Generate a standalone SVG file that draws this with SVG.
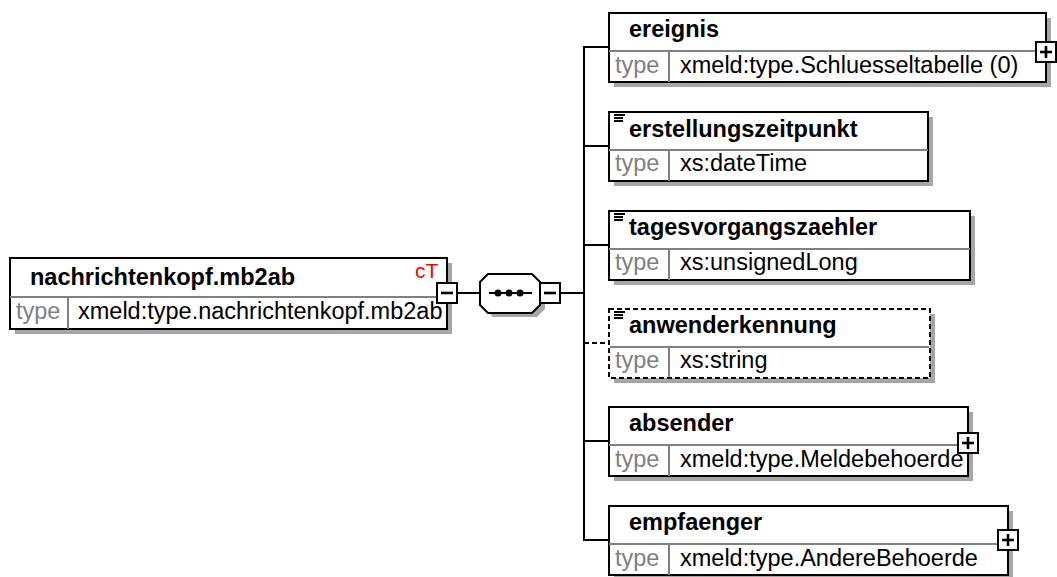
<svg xmlns="http://www.w3.org/2000/svg" width="1057" height="577" viewBox="0 0 1057 577">
<style>
.bg{fill:#fff}
.shadow{fill:#a6a6a6}
.box{fill:#fff;stroke:#000;stroke-width:2}
.dbox{fill:#fff;stroke:#000;stroke-width:2;stroke-dasharray:5 3}
.div{stroke:#808080;stroke-width:2}
.name{font-family:"Liberation Sans",Arial,sans-serif;font-weight:bold;font-size:23.5px;fill:#000}
.lbl{font-family:"Liberation Sans",Arial,sans-serif;font-size:23.5px;fill:#808080}
.val{font-family:"Liberation Sans",Arial,sans-serif;font-size:23.5px;fill:#000}
.ct{font-family:"Liberation Sans",Arial,sans-serif;font-size:21px;fill:#ff0000}
.conn{stroke:#000;stroke-width:2;fill:none}
.dconn{stroke:#000;stroke-width:2;fill:none;stroke-dasharray:5 3}
.btn{fill:#fff;stroke:#000;stroke-width:2}
.sign{stroke:#000;stroke-width:2.6}
.icon{fill:#000}
</style>
<defs>
<clipPath id="rootclip"><rect x="69" y="298" width="377" height="30"/></clipPath>
<g id="lines-icon">
<rect class="icon" x="0" y="0" width="11" height="2"/>
<rect class="icon" x="0" y="3" width="9" height="2"/>
<rect class="icon" x="0" y="6" width="9" height="2"/>
</g>
</defs>
<rect class="bg" x="0" y="0" width="1057" height="577"/>

<g id="connectors">
<line class="conn" x1="457" y1="293" x2="480" y2="293"/>
<line class="conn" x1="560" y1="293" x2="584" y2="293"/>
<line class="conn" x1="584" y1="47" x2="584" y2="540"/>
<line class="conn" x1="583" y1="47" x2="609" y2="47"/>
<line class="conn" x1="584" y1="146" x2="609" y2="146"/>
<line class="conn" x1="584" y1="245" x2="609" y2="245"/>
<line class="dconn" x1="584" y1="343" x2="609" y2="343"/>
<line class="conn" x1="584" y1="441" x2="609" y2="441"/>
<line class="conn" x1="583" y1="540" x2="609" y2="540"/>
</g>

<g id="root">
<rect class="shadow" x="15" y="263" width="437" height="71"/>
<rect class="box" x="10" y="258" width="437" height="71"/>
<line class="div" x1="10" y1="297" x2="447" y2="297"/>
<line class="div" x1="68" y1="297" x2="68" y2="329"/>
<text class="name" x="30" y="285">nachrichtenkopf.mb2ab</text>
<text class="ct" x="415" y="278">cT</text>
<text class="lbl" x="16" y="319">type</text>
<text class="val" x="78" y="319" clip-path="url(#rootclip)">xmeld:type.nachrichtenkopf.mb2ab</text>
<rect class="btn" x="437" y="283" width="20" height="20"/>
<line class="sign" x1="441" y1="293" x2="453" y2="293"/>
</g>

<g id="sequence">
<polygon class="shadow" points="493,278 537,278 545,286 545,309 537,317 493,317 485,309 485,286"/>
<polygon class="box" points="488,274 532,274 540,282 540,305 532,313 488,313 480,305 480,282"/>
<line class="conn" x1="489" y1="293" x2="532" y2="293"/>
<circle cx="498" cy="293" r="3.5" fill="#000"/>
<circle cx="509" cy="293" r="3.5" fill="#000"/>
<circle cx="520" cy="293" r="3.5" fill="#000"/>
<rect class="btn" x="540" y="283" width="20" height="20"/>
<line class="sign" x1="544" y1="293" x2="556" y2="293"/>
</g>

<g id="ereignis">
<rect class="shadow" x="614" y="18" width="437" height="69"/>
<rect class="box" x="609" y="13" width="437" height="69"/>
<line class="div" x1="609" y1="51" x2="1046" y2="51"/>
<line class="div" x1="669" y1="51" x2="669" y2="82"/>
<text class="name" x="629" y="37">ereignis</text>
<text class="lbl" x="615" y="73">type</text>
<text class="val" x="680" y="73">xmeld:type.Schluesseltabelle (0)</text>
<rect class="btn" x="1036" y="42" width="20" height="20"/>
<line class="sign" x1="1040" y1="52" x2="1052" y2="52"/>
<line class="sign" x1="1046" y1="46" x2="1046" y2="58"/>
</g>

<g id="erstellungszeitpunkt">
<rect class="shadow" x="614" y="117" width="319" height="69"/>
<rect class="box" x="609" y="112" width="319" height="69"/>
<line class="div" x1="609" y1="150" x2="928" y2="150"/>
<line class="div" x1="669" y1="150" x2="669" y2="181"/>
<use href="#lines-icon" x="614" y="114"/>
<text class="name" x="629" y="137">erstellungszeitpunkt</text>
<text class="lbl" x="615" y="171">type</text>
<text class="val" x="680" y="171">xs:dateTime</text>
</g>

<g id="tagesvorgangszaehler">
<rect class="shadow" x="614" y="216" width="361" height="69"/>
<rect class="box" x="609" y="211" width="361" height="69"/>
<line class="div" x1="609" y1="249" x2="970" y2="249"/>
<line class="div" x1="669" y1="249" x2="669" y2="280"/>
<use href="#lines-icon" x="614" y="213"/>
<text class="name" x="629" y="235">tagesvorgangszaehler</text>
<text class="lbl" x="615" y="270">type</text>
<text class="val" x="680" y="270">xs:unsignedLong</text>
</g>

<g id="anwenderkennung">
<rect class="shadow" x="614" y="314" width="321" height="69"/>
<rect class="dbox" x="609" y="309" width="321" height="69"/>
<line class="div" x1="610" y1="347" x2="929" y2="347"/>
<line class="div" x1="669" y1="347" x2="669" y2="377"/>
<use href="#lines-icon" x="614" y="311"/>
<text class="name" x="629" y="333">anwenderkennung</text>
<text class="lbl" x="615" y="368">type</text>
<text class="val" x="680" y="368">xs:string</text>
</g>

<g id="absender">
<rect class="shadow" x="614" y="412" width="359" height="69"/>
<rect class="box" x="609" y="407" width="359" height="69"/>
<line class="div" x1="609" y1="445" x2="968" y2="445"/>
<line class="div" x1="669" y1="445" x2="669" y2="476"/>
<text class="name" x="629" y="431">absender</text>
<text class="lbl" x="615" y="467">type</text>
<text class="val" x="680" y="467">xmeld:type.Meldebehoerde</text>
<rect class="btn" x="958" y="433" width="20" height="20"/>
<line class="sign" x1="962" y1="443" x2="974" y2="443"/>
<line class="sign" x1="968" y1="437" x2="968" y2="449"/>
</g>

<g id="empfaenger">
<rect class="shadow" x="614" y="511" width="399" height="66"/>
<rect class="box" x="609" y="506" width="399" height="69"/>
<line class="div" x1="609" y1="544" x2="1008" y2="544"/>
<line class="div" x1="669" y1="544" x2="669" y2="575"/>
<text class="name" x="629" y="530">empfaenger</text>
<text class="lbl" x="615" y="566">type</text>
<text class="val" x="680" y="566">xmeld:type.AndereBehoerde</text>
<rect class="btn" x="998" y="530" width="20" height="20"/>
<line class="sign" x1="1002" y1="540" x2="1014" y2="540"/>
<line class="sign" x1="1008" y1="534" x2="1008" y2="546"/>
</g>
</svg>
